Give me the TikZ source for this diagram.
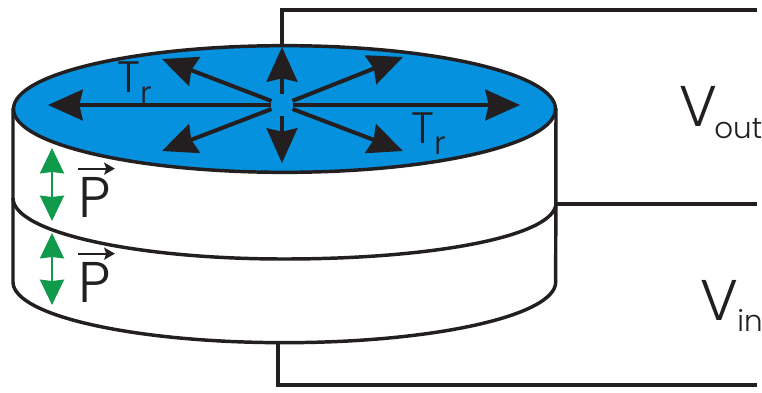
\documentclass[tikz,border=0pt]{standalone}
\usepackage{fontspec}
\setmainfont{Poppins Light}
\usepackage{xcolor}
\usetikzlibrary{shapes.geometric,arrows.meta}
\definecolor{faceblue}{RGB}{5,145,222}
\definecolor{inkblack}{RGB}{35,31,32}
\definecolor{polgreen}{RGB}{15,155,75}
\newcommand{\lowtext}[4]{#1\kern#4\raisebox{-8.5pt}{\fontsize{#3}{#3}\selectfont #2}}

\begin{document}
\begin{tikzpicture}[
    x=0.75pt, y=-0.75pt,
    face/.style={ellipse, draw=inkblack, line width=2.6pt, fill=faceblue, inner sep=0pt, minimum width=406.5pt, minimum height=95pt},
    rim/.style={draw=inkblack, line width=2.6pt},
    wire/.style={draw=inkblack, line width=2.6pt},
    strain/.style={draw=inkblack, line width=3pt, -{Stealth[length=26pt, width=23pt, inset=2.5pt]}},
    pol/.style={draw=polgreen, line width=1.7pt, {Stealth[length=19pt, width=18pt, inset=1pt]}-{Stealth[length=19pt, width=18pt, inset=1pt]}},
    pvec/.style={draw=inkblack, line width=1.6pt, -{Stealth[length=8pt, width=9pt, inset=1.5pt]}},
    biglabel/.style={text=inkblack, inner sep=0pt, anchor=base west, font=\fontsize{43}{43}\selectfont},
    trlabel/.style={text=inkblack, inner sep=0pt, anchor=base west, font=\fontsize{33}{33}\selectfont}
]
    \useasboundingbox (0,0) rectangle (762,392);

    % Disc sides
    \draw[rim] (13,108) -- (13,282) arc[start angle=180, end angle=360, x radius=203.5pt, y radius=45.5pt] -- (556,108);
    \draw[rim] (13,198) .. controls (13,232) and (134,259) .. (284,259) .. controls (434,259) and (556,236) .. (556,203);

    % Top electrode
    \node[face] (top) at (284.5,109) {};

    % Wires
    \coordinate (topin) at (282,46);
    \coordinate (topend) at (757,10);
    \coordinate (midin) at (556,204);
    \coordinate (midend) at (757,204);
    \coordinate (botin) at (278,343);
    \coordinate (botend) at (757,385);
    \draw[wire] (topin) |- (topend);
    \draw[wire] (midin) -- (midend);
    \draw[wire] (botin) |- (botend);

    % Radial strain
    \node[circle, inner sep=0pt, minimum size=16.5pt] (hub) at (282,105) {};
    \coordinate (tipw) at (48,105);
    \coordinate (tipe) at (520,105);
    \coordinate (tipn) at (282,47);
    \coordinate (tips) at (282,163);
    \coordinate (tipnw) at (162,59);
    \coordinate (tipsw) at (162,151);
    \coordinate (tipne) at (403,57);
    \coordinate (tipse) at (403,151);
    \draw[strain] (hub) -- (tipw);
    \draw[strain] (hub) -- (tipe);
    \draw[strain] (hub) -- (tipn);
    \draw[strain] (hub) -- (tips);
    \draw[strain] (hub) -- (tipnw);
    \draw[strain] (hub) -- (tipsw);
    \draw[strain] (hub) -- (tipne);
    \draw[strain] (hub) -- (tipse);

    % Polarisation
    \coordinate (pua) at (52,148);
    \coordinate (pub) at (52,221);
    \coordinate (pla) at (52,233);
    \coordinate (plb) at (52,305);
    \draw[pol] (pua) -- (pub);
    \draw[pol] (pla) -- (plb);

    % Labels
    \node[biglabel] (pupper) at (78,217) {P};
    \node[biglabel] (plower) at (78,302) {P};
    \draw[pvec] ([yshift=6pt]pupper.north west) -- ([xshift=3pt,yshift=6pt]pupper.north east);
    \draw[pvec] ([yshift=6pt]plower.north west) -- ([xshift=3pt,yshift=6pt]plower.north east);
    \node[trlabel] (trleft) at (117,93) {\lowtext{T}{r}{24}{0pt}};
    \node[trlabel] (trright) at (411,143) {\lowtext{T}{r}{24}{0pt}};
    \node[biglabel] (vout) at (679,127) {\lowtext{V}{out}{22}{-2pt}};
    \node[biglabel] (vin) at (700,320) {\lowtext{V}{in}{22}{-0.5pt}};
\end{tikzpicture}
\end{document}
